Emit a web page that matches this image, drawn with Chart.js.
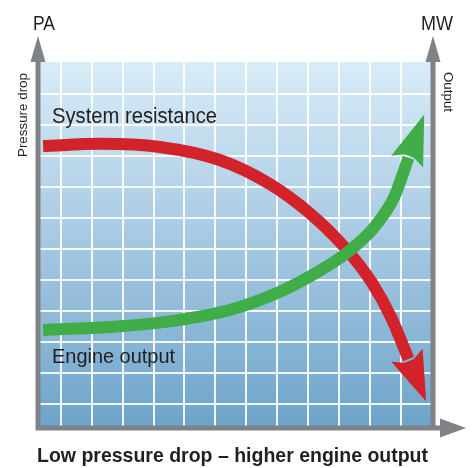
<!DOCTYPE html>
<html>
<head>
<meta charset="utf-8">
<title>Pressure drop vs engine output</title>
<script src="https://cdn.jsdelivr.net/npm/chart.js@4.4.1/dist/chart.umd.min.js"></script>
<style>
  html, body { margin: 0; padding: 0; background: #fff; }
</style>
</head>
<body>
<canvas id="chart" width="472" height="468"></canvas>
<script>
// curves in grid units (x: left -> right, y: bottom -> top)
var resistanceX = [-0.57, 1.27, 3.20, 5.14, 6.75, 8.04, 9.17, 10.04, 10.69, 11.24];
var resistanceY = [8.32, 8.39, 8.29, 7.87, 7.10, 6.16, 5.06, 3.94, 2.77, 1.45];
var outputX = [-0.57, 1.59, 3.69, 5.46, 7.07, 8.36, 9.33, 10.14, 10.78, 11.24];
var outputY = [2.39, 2.48, 2.69, 3.03, 3.61, 4.29, 4.94, 5.71, 6.68, 7.94];
// grid lines
var gridX = [0, 1, 2, 3, 4, 5, 6, 7, 8, 9, 10, 11];
var gridY = [0, 1, 2, 3, 4, 5, 6, 7, 8, 9, 10];

var INK = '#231f20';
var AXIS = '#808285';

function pts(xs, ys) {
    return xs.map(function(x, i) { return { x: x, y: ys[i] }; });
}

// draw text squeezed/stretched to a given width
function label(ctx, text, x, y, size, weight, width, rot) {
    ctx.save();
    ctx.font = weight + ' ' + size + 'px "Liberation Sans", Arial, sans-serif';
    ctx.fillStyle = INK;
    ctx.textBaseline = 'alphabetic';
    ctx.textAlign = 'left';
    var w = ctx.measureText(text).width;
    ctx.translate(x, y);
    if (rot) ctx.rotate(rot);
    ctx.scale(width / w, 1);
    ctx.fillText(text, 0, 0);
    ctx.restore();
}

function tri(ctx, a, b, c) {
    ctx.beginPath();
    ctx.moveTo(a[0], a[1]);
    ctx.lineTo(b[0], b[1]);
    ctx.lineTo(c[0], c[1]);
    ctx.closePath();
    ctx.fill();
}

var decor = {
    id: 'decor',
    beforeDraw: function(chart) {
        var ctx = chart.ctx, a = chart.chartArea;
        var g = ctx.createLinearGradient(0, a.top, 0, a.bottom);
        g.addColorStop(0, '#d9ecf8');
        g.addColorStop(0.5, '#a5c8e2');
        g.addColorStop(1, '#6ea4ca');
        ctx.save();
        ctx.fillStyle = g;
        ctx.fillRect(a.left, a.top, a.right - a.left, a.bottom - a.top);
        ctx.restore();
    },
    afterDatasetsDraw: function(chart) {
        var ctx = chart.ctx;
        chart.getSortedVisibleDatasetMetas().slice().reverse().forEach(function(meta) {
            var ds = chart.data.datasets[meta.index];
            var p = meta.data[meta.data.length - 1];
            var q = meta.data[meta.data.length - 2];
            var dx = p.x - (p.cp1x !== undefined ? p.cp1x : q.x);
            var dy = p.y - (p.cp1y !== undefined ? p.cp1y : q.y);
            if (Math.abs(dx) + Math.abs(dy) < 0.01) { dx = p.x - q.x; dy = p.y - q.y; }
            var l = Math.sqrt(dx * dx + dy * dy);
            var ux = dx / l, uy = dy / l, nx = -uy, ny = ux;
            var len = 46, half = 17, back = 4;
            ctx.save();
            ctx.fillStyle = ds.borderColor;
            ctx.beginPath();
            ctx.moveTo(p.x + ux * len, p.y + uy * len);
            ctx.lineTo(p.x - ux * back + nx * half, p.y - uy * back + ny * half);
            ctx.lineTo(p.x + ux * 2 + nx * 5, p.y + uy * 2 + ny * 5);
            ctx.lineTo(p.x + ux * 2 - nx * 5, p.y + uy * 2 - ny * 5);
            ctx.lineTo(p.x - ux * back - nx * half, p.y - uy * back - ny * half);
            ctx.closePath();
            ctx.fill();
            ctx.restore();
        });
    },
    afterDraw: function(chart) {
        var ctx = chart.ctx, a = chart.chartArea;
        var lx = a.left - 2, rx = a.right + 1, by = a.bottom + 2;
        ctx.save();
        ctx.strokeStyle = AXIS;
        ctx.fillStyle = AXIS;
        ctx.lineWidth = 5;
        ctx.beginPath();
        ctx.moveTo(lx, a.top - 1);
        ctx.lineTo(lx, by + 2.5);
        ctx.moveTo(lx - 2.5, by);
        ctx.lineTo(a.right + 9, by);
        ctx.moveTo(rx, a.top - 1);
        ctx.lineTo(rx, by);
        ctx.stroke();
        tri(ctx, [lx, a.top - 26], [lx - 7.5, a.top], [lx + 7.5, a.top]);
        tri(ctx, [rx, a.top - 26], [rx - 7.5, a.top], [rx + 7.5, a.top]);
        tri(ctx, [a.right + 34, by], [a.right + 8, by - 9.5], [a.right + 8, by + 9.5]);
        ctx.restore();

        label(ctx, 'PA', 33, 30, 21, 'normal', 22);
        label(ctx, 'MW', 421, 30, 21, 'normal', 32);
        label(ctx, 'Pressure drop', 26.5, 157, 13, 'normal', 84, -Math.PI / 2);
        label(ctx, 'Output', 443.5, 72, 13, 'normal', 40, Math.PI / 2);
        label(ctx, 'System resistance', 52, 123, 22, 'normal', 165);
        label(ctx, 'Engine output', 52, 363, 21, 'normal', 123);
        label(ctx, 'Low pressure drop \u2013 higher engine output', 37, 462, 21, 'bold', 391);
    }
};

new Chart(document.getElementById('chart'), {
    type: 'line',
    data: {
        datasets: [{
            label: 'Engine output',
            data: pts(outputX, outputY),
            borderColor: '#41ad49',
            borderWidth: 12,
            borderCapStyle: 'butt',
            cubicInterpolationMode: 'monotone',
            pointRadius: 0,
            fill: false,
            order: 0
        }, {
            label: 'System resistance',
            data: pts(resistanceX, resistanceY),
            borderColor: '#d2232a',
            borderWidth: 12,
            borderCapStyle: 'butt',
            cubicInterpolationMode: 'monotone',
            pointRadius: 0,
            fill: false,
            order: 1
        }]
    },
    options: {
        responsive: false,
        animation: false,
        devicePixelRatio: 1,
        layout: { padding: { left: 40, right: 40, top: 62, bottom: 42 } },
        plugins: { legend: { display: false }, tooltip: { enabled: false }, title: { display: false } },
        scales: {
            x: {
                type: 'linear',
                min: -0.67,
                max: 12,
                afterBuildTicks: function(s) { s.ticks = gridX.map(function(v) { return { value: v }; }); },
                ticks: { display: false },
                grid: { color: 'rgba(255,255,255,0.9)', lineWidth: 2, drawTicks: false },
                border: { display: false }
            },
            y: {
                type: 'linear',
                min: -0.71,
                max: 11.03,
                afterBuildTicks: function(s) { s.ticks = gridY.map(function(v) { return { value: v }; }); },
                ticks: { display: false },
                grid: { color: 'rgba(255,255,255,0.9)', lineWidth: 2, drawTicks: false },
                border: { display: false }
            }
        }
    },
    plugins: [decor]
});
</script>
</body>
</html>
